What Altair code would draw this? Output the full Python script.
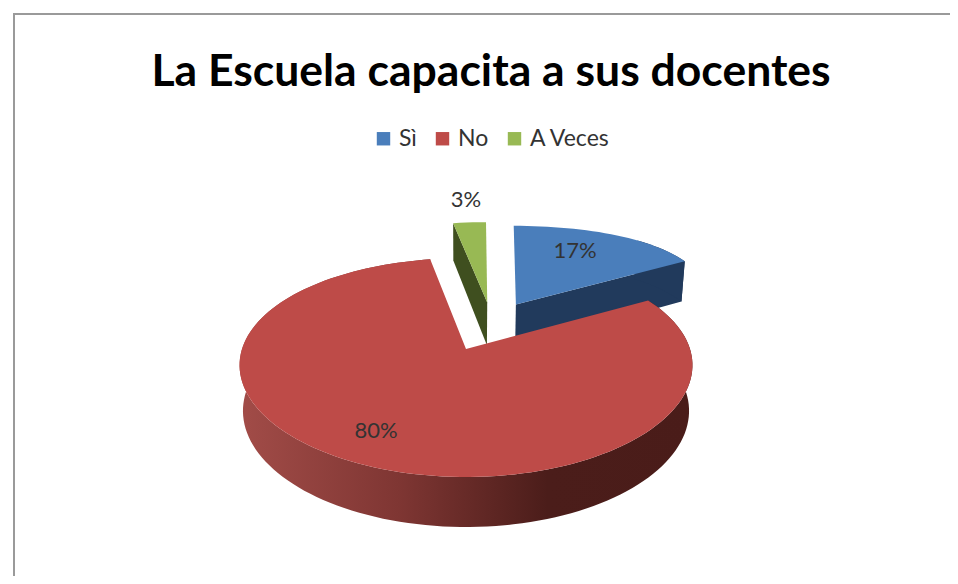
import math
import altair as alt
import pandas as pd

TITLE = "La Escuela capacita a sus docentes"
categories = ["Sì", "No", "A Veces"]
values = [17, 80, 3]
labels = ["17%", "80%", "3%"]
colors = ["#4a7ebb", "#be4b48", "#98b954"]
wall_colors = ["#213a5c", None, "#3f4f1f"]
# picture-space reference frame (pixels of the 958x584 picture)
W, H = 958, 584
CX, CY, R = 466, 349, 224
offsets = [(0.2267, 0.44), (0.0, 0.0), (0.097, 0.46)]
radii_x = [0.9, 1.0, 0.85]
radii_y = [1.07, 1.0, 1.12]
persp = [0.04, 0.15, 0.05]
label_x = [575, 376, 466]
label_y = [251, 431, 200]
frame_x = [14, 14, 950]
frame_y = [576, 14, 14]
FONT = "Lato"


def project(k, u, v):
    return CX + R * u * (1 - persp[k] * v), CY - 109.5 * v + 18.5 * v * v


def drop(x, y, v):
    return CX + (x - CX) * 0.985, y + 45 - 5 * v


def disc(k, deg):
    a = math.radians(deg)
    return offsets[k][0] + radii_x[k] * math.sin(a), offsets[k][1] + radii_y[k] * math.cos(a)


edges = [0]
for val in values:
    edges.append(edges[-1] + val * 3.6)


def arc(k, a0, a1):
    n = max(2, int(abs(a1 - a0) / 2))
    return [disc(k, a0 + (a1 - a0) * i / n) for i in range(n + 1)]


def frame(points, name):
    return pd.DataFrame(
        [{"s": name, "i": i, "x": p[0], "y": p[1]} for i, p in enumerate(points)]
    )


def top_face(k):
    pts = [offsets[k]] + arc(k, edges[k], edges[k + 1]) + [offsets[k]]
    return frame([project(k, *p) for p in pts], categories[k])


def wall(k, disc_pts, name):
    upper = [project(k, *p) for p in disc_pts]
    lower = [drop(*project(k, *p), p[1]) for p in disc_pts]
    return frame(upper + lower[::-1] + upper[:1], name)


x_scale = alt.Scale(domain=[8, W - 8], nice=False, zero=False)
y_scale = alt.Scale(domain=[H - 8, 8], nice=False, zero=False)
X = alt.X("x:Q", scale=x_scale, axis=None)
Y = alt.Y("y:Q", scale=y_scale, axis=None)
ORDER = alt.Order("i:Q")

red_gradient = alt.Gradient(
    gradient="linear", x1=0, x2=1, y1=0, y2=0,
    stops=[
        alt.GradientStop(offset=0, color="#a24c48"),
        alt.GradientStop(offset=0.35, color="#7f3633"),
        alt.GradientStop(offset=0.68, color="#4b1d1a"),
        alt.GradientStop(offset=1, color="#4a1c19"),
    ],
)


def poly(df, fill):
    return alt.Chart(df).mark_line(fill=fill, strokeWidth=0, interpolate="linear").encode(x=X, y=Y, order=ORDER)


layers = []
# frame of the picture
layers.append(
    alt.Chart(pd.DataFrame({"x": frame_x, "y": frame_y, "i": [0, 1, 2]}))
    .mark_line(color="#9a9a9a", strokeWidth=2)
    .encode(x=X, y=Y, order=ORDER)
)
# blue (back) and green (back) walls
blue_tip = disc(0, edges[1])
layers.append(poly(wall(0, [offsets[0], blue_tip], "w0"), wall_colors[0]))
layers.append(poly(wall(0, arc(0, edges[0] + 40, edges[1]), "w0b"), wall_colors[0]))
green_left = disc(2, edges[2])
layers.append(poly(wall(2, [green_left, offsets[2]], "w2"), wall_colors[2]))
# red outer wall
layers.append(poly(wall(1, arc(1, edges[1], edges[2]), "w1"), red_gradient))

# top faces
tops = pd.concat([top_face(k) for k in [0, 2, 1]])
color_scale = alt.Scale(domain=categories, range=colors)
layers.append(
    alt.Chart(tops)
    .mark_line(strokeWidth=0)
    .encode(
        x=X,
        y=Y,
        order=ORDER,
        detail="s:N",
        fill=alt.Fill(
            "s:N",
            scale=color_scale,
            legend=alt.Legend(
                title=None,
                orient="none",
                legendX=364,
                legendY=119,
                direction="horizontal",
                columns=3,
                symbolType="square",
                symbolSize=180,
                symbolStrokeWidth=0,
                labelFont=FONT,
                labelFontSize=23,
                labelColor="#333333",
                labelOffset=4,
                columnPadding=14,
            ),
        ),
    )
)
# data labels
layers.append(
    alt.Chart(pd.DataFrame({"x": label_x, "y": label_y, "t": labels}))
    .mark_text(font=FONT, fontSize=22, color="#333333", align="center", baseline="middle")
    .encode(x=X, y=Y, text="t:N")
)

chart = (
    alt.layer(*layers)
    .properties(
        width=W - 16,
        height=H - 16,
        padding=0,
        autosize=alt.AutoSizeParams(type="none"),
        title=alt.TitleParams(
            TITLE, font=FONT, fontSize=44.5, fontWeight="bold", color="#000000",
            anchor="middle", dy=91, dx=12, frame="group",
        ),
    )
    .configure_view(stroke=None)
)
chart.save("out.html", embed_options={"renderer": "svg", "actions": False})
